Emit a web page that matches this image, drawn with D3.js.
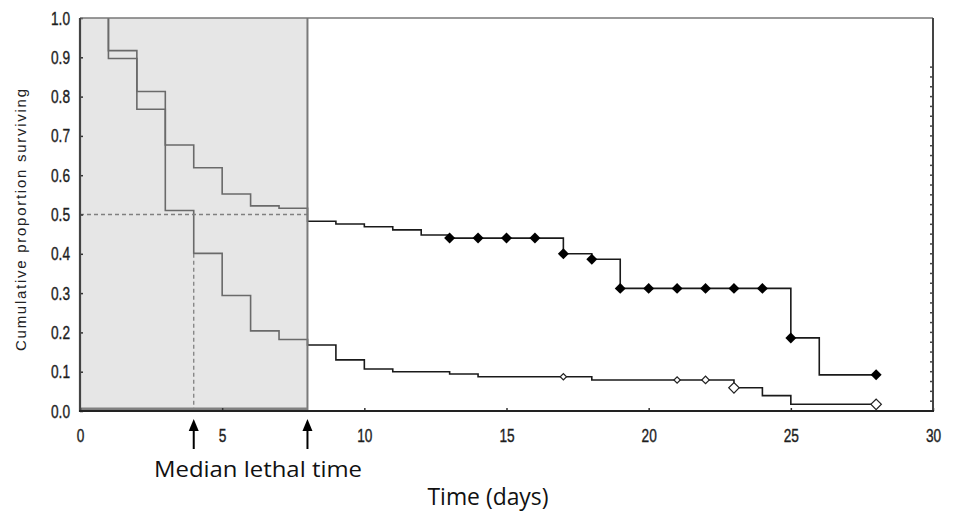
<!DOCTYPE html>
<html>
<head>
<meta charset="utf-8">
<script src="https://cdn.jsdelivr.net/npm/d3@7"></script>
<style>
  body { margin: 0; background: #fff; }
  svg { display: block; }
</style>
</head>
<body>
<svg id="chart" width="954" height="513"></svg>
<script>
// Kaplan-Meier style step curves (time in days, cumulative proportion surviving)
const upperTimes = [1, 1, 2, 3, 4, 5, 6, 7, 8, 9, 10, 11, 12, 13, 17, 18, 19, 25, 26, 28];
const upperSurv = [1.0, 0.917, 0.813, 0.677, 0.619, 0.552, 0.522, 0.516, 0.483, 0.476, 0.469, 0.461, 0.448, 0.440, 0.400, 0.386, 0.312, 0.186, 0.092, 0.092];
const upperCensored = [13, 14, 15, 16, 17, 18, 19, 20, 21, 22, 23, 24, 25, 28];

const lowerTimes = [1, 1, 2, 3, 4, 5, 6, 7, 8, 9, 10, 11, 13, 14, 18, 23, 24, 25, 28];
const lowerSurv = [1.0, 0.897, 0.768, 0.510, 0.401, 0.294, 0.204, 0.182, 0.168, 0.130, 0.107, 0.100, 0.094, 0.087, 0.079, 0.059, 0.039, 0.017, 0.017];
const lowerCensored = [17, 21, 22, 23, 28];
const lowerCensoredSize = [20, 20, 28, 55, 55];

const xTicks = [0, 5, 10, 15, 20, 25, 30];
const yTicks = [0, 0.1, 0.2, 0.3, 0.4, 0.5, 0.6, 0.7, 0.8, 0.9, 1.0];
const medianTimes = [4, 8];
const shadedUntil = 8;

const plotLeft = 80, plotRight = 933, plotTop = 18, plotBottom = 411;
const narrow = 0.72; // tick labels look horizontally squeezed

const svg = d3.select('#chart');
const x = d3.scaleLinear().domain([0, 30]).range([plotLeft, plotRight]);
const y = d3.scaleLinear().domain([0, 1]).range([plotBottom, plotTop]);

// value of a step curve at time t
function stepValue(times, surv, t) {
  let v = surv[0];
  for (let i = 0; i < times.length; i++) {
    if (times[i] <= t) v = surv[i];
  }
  return v;
}

const line = d3.line()
  .x(d => x(d[0]))
  .y(d => y(d[1]))
  .curve(d3.curveStepAfter);

const curves = svg.append('g');
[[upperTimes, upperSurv], [lowerTimes, lowerSurv]].forEach(([t, s]) => {
  curves.append('path')
    .attr('d', line(t.map((d, i) => [d, s[i]])))
    .attr('fill', 'none')
    .attr('stroke', '#1a1a1a')
    .attr('stroke-width', 1.6);
});

// median guides
svg.append('line')
  .attr('x1', x(0)).attr('x2', x(shadedUntil))
  .attr('y1', y(0.5)).attr('y2', y(0.5))
  .attr('stroke', '#444').attr('stroke-width', 1.3)
  .attr('stroke-dasharray', '4,3');
svg.append('line')
  .attr('x1', x(medianTimes[0])).attr('x2', x(medianTimes[0]))
  .attr('y1', y(0.4)).attr('y2', y(0))
  .attr('stroke', '#444').attr('stroke-width', 1.3)
  .attr('stroke-dasharray', '4,3');

// shaded overlay region
svg.append('rect')
  .attr('x', x(0)).attr('y', plotTop)
  .attr('width', x(shadedUntil) - x(0)).attr('height', plotBottom - plotTop)
  .attr('fill', 'rgb(200,200,200)')
  .attr('fill-opacity', 0.46);
svg.append('line')
  .attr('x1', x(shadedUntil)).attr('x2', x(shadedUntil))
  .attr('y1', plotTop).attr('y2', plotBottom)
  .attr('stroke', '#7a7a7a').attr('stroke-width', 2);
svg.append('line')
  .attr('x1', x(0)).attr('x2', x(shadedUntil))
  .attr('y1', plotBottom - 2).attr('y2', plotBottom - 2)
  .attr('stroke', '#808080').attr('stroke-width', 3);

// censored marks (squares turned 45deg)
const mark = d3.symbol().type(d3.symbolSquare);
svg.append('g').selectAll('path')
  .data(upperCensored)
  .join('path')
  .attr('transform', d => `translate(${x(d)},${y(stepValue(upperTimes, upperSurv, d))}) rotate(45)`)
  .attr('d', mark.size(60)())
  .attr('fill', '#000');
svg.append('g').selectAll('path')
  .data(lowerCensored)
  .join('path')
  .attr('transform', d => `translate(${x(d)},${y(stepValue(lowerTimes, lowerSurv, d))}) rotate(45)`)
  .attr('d', (d, i) => mark.size(lowerCensoredSize[i])())
  .attr('fill', '#fff')
  .attr('stroke', '#222')
  .attr('stroke-width', 1.2);

// axes
const yAxis = svg.append('g')
  .attr('transform', `translate(${plotLeft},0)`)
  .call(d3.axisLeft(y).tickValues(yTicks).tickFormat(d3.format('.1f')).tickSize(-3).tickPadding(10));
const xAxis = svg.append('g')
  .attr('transform', `translate(0,${plotBottom})`)
  .call(d3.axisBottom(x).tickValues(xTicks).tickFormat(d3.format('d')).tickSize(-3).tickPadding(18));
[yAxis, xAxis].forEach(a => {
  a.select('.domain').remove();
  a.selectAll('.tick line').attr('stroke', '#333').attr('stroke-width', 1.5);
  a.selectAll('.tick text')
    .attr('font-family', '"Liberation Sans", Arial, sans-serif')
    .attr('font-size', 19)
    .attr('fill', '#1e1e1e')
    .attr('stroke', '#1e1e1e')
    .attr('stroke-width', 0.4);
});
yAxis.selectAll('.tick text')
  .attr('x', 0)
  .attr('transform', `translate(-10,0) scale(${narrow},1)`);
xAxis.selectAll('.tick text')
  .attr('y', 0)
  .attr('transform', `translate(0,17) scale(${narrow},1)`);

// frame
svg.append('line')
  .attr('x1', plotLeft).attr('x2', plotRight).attr('y1', plotTop).attr('y2', plotTop)
  .attr('stroke', '#777').attr('stroke-width', 1.5);
svg.append('line')
  .attr('x1', plotRight).attr('x2', plotRight).attr('y1', plotTop).attr('y2', plotBottom)
  .attr('stroke', '#444').attr('stroke-width', 2);
svg.append('line')
  .attr('x1', plotLeft).attr('x2', plotLeft).attr('y1', plotTop).attr('y2', plotBottom + 1)
  .attr('stroke', '#444').attr('stroke-width', 2.2);
svg.append('line')
  .attr('x1', plotLeft - 1).attr('x2', plotRight + 1).attr('y1', plotBottom).attr('y2', plotBottom)
  .attr('stroke', '#222').attr('stroke-width', 2);
// little inner ticks on the right edge
svg.append('g').selectAll('line')
  .data(d3.range(1, 36))
  .join('line')
  .attr('x1', plotRight - 3).attr('x2', plotRight)
  .attr('y1', d => y(d * 0.025)).attr('y2', d => y(d * 0.025))
  .attr('stroke', '#444').attr('stroke-width', 1.5);

// arrows for median lethal times
const arrows = svg.append('g');
medianTimes.forEach(t => {
  const ax = x(t);
  arrows.append('line')
    .attr('x1', ax).attr('x2', ax).attr('y1', 428).attr('y2', 449)
    .attr('stroke', '#000').attr('stroke-width', 2);
  arrows.append('path')
    .attr('d', `M${ax},419 L${ax - 5},431 L${ax + 5},431 Z`)
    .attr('fill', '#000');
});

svg.append('text')
  .attr('x', 258).attr('y', 477)
  .attr('text-anchor', 'middle')
  .attr('font-family', '"Open Sans", Lato, sans-serif')
  .attr('font-size', 22)
  .attr('fill', '#111')
  .attr('textLength', 208)
  .attr('lengthAdjust', 'spacingAndGlyphs')
  .text('Median lethal time');

svg.append('text')
  .attr('x', 488).attr('y', 505)
  .attr('text-anchor', 'middle')
  .attr('font-family', '"Open Sans", Lato, sans-serif')
  .attr('font-size', 24)
  .attr('fill', '#111')
  .attr('textLength', 121)
  .attr('lengthAdjust', 'spacingAndGlyphs')
  .text('Time (days)');

svg.append('text')
  .attr('transform', `translate(26,${(88 + 352) / 2}) rotate(-90)`)
  .attr('text-anchor', 'middle')
  .attr('font-family', '"Liberation Sans", Arial, sans-serif')
  .attr('font-size', 15)
  .attr('fill', '#222')
  .attr('textLength', 262)
  .attr('lengthAdjust', 'spacing')
  .text('Cumulative proportion surviving');
</script>
</body>
</html>
